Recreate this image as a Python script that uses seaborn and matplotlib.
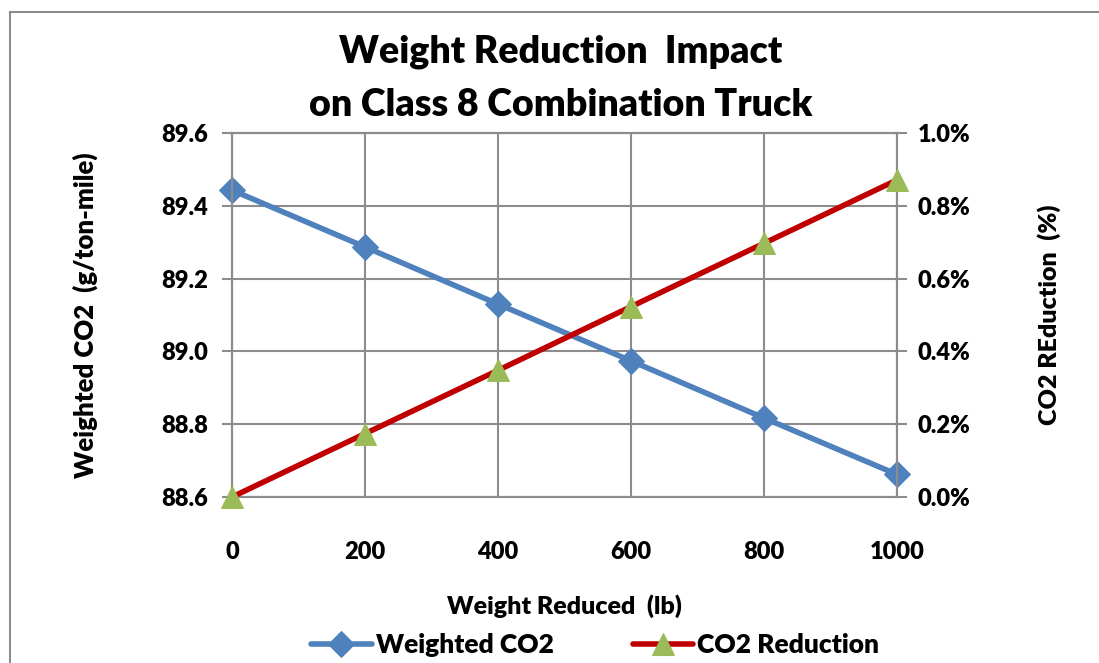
import matplotlib
matplotlib.use("Agg")
import matplotlib.pyplot as plt
from matplotlib.patches import Rectangle
from matplotlib.ticker import FuncFormatter
import seaborn as sns

# data
weight_reduced = [0, 200, 400, 600, 800, 1000]
weighted_co2 = [89.443, 89.287, 89.130, 88.974, 88.817, 88.662]
co2_reduction = [0.0, 0.174, 0.348, 0.523, 0.697, 0.871]  # percent

sns.set_style("white")
plt.rcParams['font.family'] = ['Lato', 'DejaVu Sans']
plt.rcParams['font.weight'] = 'heavy'
plt.rcParams['text.color'] = 'black'
plt.rcParams['axes.labelcolor'] = 'black'
plt.rcParams['xtick.color'] = 'black'
plt.rcParams['ytick.color'] = 'black'

blue = '#4F81BD'
red = '#C00000'
green = '#9BBB59'
grid_c = '#8C8C8C'
fw = 'heavy'

fig = plt.figure(figsize=(10.99, 6.63), dpi=100)
ax = fig.add_axes([232 / 1099, 1 - 497 / 663, 665 / 1099, 364 / 663])
ax2 = ax.twinx()

# outer chart frame
fig.patches.append(Rectangle((10 / 1099, -0.1), 1.2, 1.1 - 12 / 663, transform=fig.transFigure,
                             fill=False, edgecolor='#8C8C8C', linewidth=1.5, zorder=0))

sns.lineplot(x=weight_reduced, y=weighted_co2, ax=ax, color=blue, linewidth=4,
             marker='D', markersize=13, markeredgecolor=blue, label='Weighted CO2',
             clip_on=False, zorder=3, legend=False)
sns.lineplot(x=weight_reduced, y=co2_reduction, ax=ax2, color=red, linewidth=4,
             marker='^', markersize=16, markerfacecolor=green, markeredgecolor=green,
             label='CO2 Reduction', clip_on=False, zorder=3, legend=False)

ax.set_xlim(0, 1000)
ax.set_ylim(88.6, 89.6)
ax2.set_ylim(0, 1.0)
ax.set_xticks(weight_reduced)
ax.set_yticks([88.6, 88.8, 89.0, 89.2, 89.4, 89.6])
ax2.set_yticks([0, 0.2, 0.4, 0.6, 0.8, 1.0])
ax.yaxis.set_major_formatter(FuncFormatter(lambda v, p: f'{v:.1f}'))
ax2.yaxis.set_major_formatter(FuncFormatter(lambda v, p: f'{v:.1f}%'))

ax.grid(True, color=grid_c, linewidth=1.5)
ax.set_axisbelow(True)
for a in (ax, ax2):
    for s in a.spines.values():
        s.set_color(grid_c)
        s.set_linewidth(1.5)
ax.tick_params(axis='y', length=7, color=grid_c, width=1.5, labelsize=17, pad=10)
ax.tick_params(axis='x', length=0, labelsize=17, pad=32)
ax2.tick_params(axis='y', length=7, color=grid_c, width=1.5, labelsize=17, pad=8)
for lab in ax.get_xticklabels() + ax.get_yticklabels() + ax2.get_yticklabels():
    lab.set_fontweight(fw)

ax.set_xlabel('Weight Reduced  (lb)', fontsize=18, fontweight=fw, labelpad=22)
ax.set_ylabel('Weighted CO2  (g/ton-mile)', fontsize=18.5, fontweight=fw, labelpad=46)
ax2.set_ylabel('CO2 REduction  (%)', fontsize=18, fontweight=fw, labelpad=48)

fig.text(0.51, 0.922, 'Weight Reduction  Impact', ha='center', va='center',
         fontsize=27, fontweight=fw)
fig.text(0.51, 0.842, 'on Class 8 Combination Truck', ha='center', va='center',
         fontsize=27, fontweight=fw)

h1, l1 = ax.get_legend_handles_labels()
h2, l2 = ax2.get_legend_handles_labels()
fig.legend(h1 + h2, ['Weighted CO2', 'CO2 Reduction'], loc='center',
           bbox_to_anchor=(0.5415, 0.027), ncol=2, frameon=False,
           handlelength=2.3, columnspacing=3.0, handletextpad=0.15,
           prop={'weight': fw, 'size': 19})

fig.savefig('out.png', dpi=100)
